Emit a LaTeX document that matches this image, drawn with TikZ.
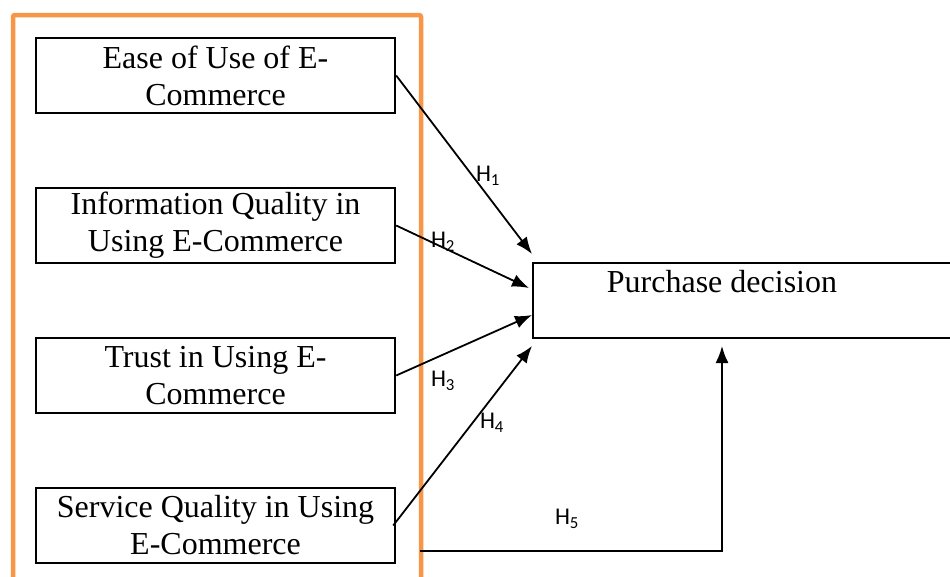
\documentclass[tikz,border=0pt]{standalone}
\usepackage{fontspec}
\setmainfont{Liberation Serif}
\newfontfamily\hfont{Carlito}
\usetikzlibrary{arrows.meta}
\definecolor{frameorange}{RGB}{247,150,70}
\tikzset{
  var/.style={draw, line width=2.4pt, minimum width=359pt, minimum height=75pt,
    inner sep=0pt, align=center, font=\fontsize{32}{37}\selectfont},
  link/.style={line width=1.8pt, -{Latex[length=17pt,width=13pt]}},
  hyp/.style={font=\hfont\fontsize{24}{26}\selectfont, inner sep=0pt}
}
\begin{document}
\begin{tikzpicture}[x=1pt,y=-1pt]
\useasboundingbox (0,0) rectangle (950,576);
% group of independent variables
\draw[frameorange, line width=4.5pt, rounded corners=2pt] (13,15) rectangle (421,600);
\node[var] (ease) at (215.5,75.5) {Ease of Use of E-\\Commerce};
\node[var] (info) at (215.5,225.5) {Information Quality in\\Using E-Commerce};
\node[var] (trust) at (215.5,375.5) {Trust in Using E-\\Commerce};
\node[var] (service) at (215.5,525.5) {Service Quality in Using\\E-Commerce};
% dependent variable
\node[draw, line width=2.4pt, minimum width=440pt, minimum height=75pt, anchor=north west, inner sep=0pt] (decision) at (532,262) {};
\node[font=\fontsize{32}{37}\selectfont] (dtext) at (722,282) {Purchase decision};
% arrow tips
\coordinate (t1) at (532,254);
\coordinate (t2) at (529,288);
\coordinate (t3) at (532,315);
\coordinate (t4) at (532,346);
\coordinate (h5from) at (420,551);
\coordinate (h5to) at (722,346);
\draw[link] (ease.east) -- (t1);
\draw[link] (info.east) -- (t2);
\draw[link] (trust.east) -- (t3);
\draw[link] ([xshift=-3pt]service.east) -- (t4);
\draw[link] (h5from) -| (h5to);
% hypotheses
\node[hyp] (h1) at (488,176) {H\textsubscript{1}};
\node[hyp] (h2) at (443,242) {H\textsubscript{2}};
\node[hyp] (h3) at (443,381) {H\textsubscript{3}};
\node[hyp] (h4) at (492,423) {H\textsubscript{4}};
\node[hyp] (h5) at (567,519) {H\textsubscript{5}};
\end{tikzpicture}
\end{document}
